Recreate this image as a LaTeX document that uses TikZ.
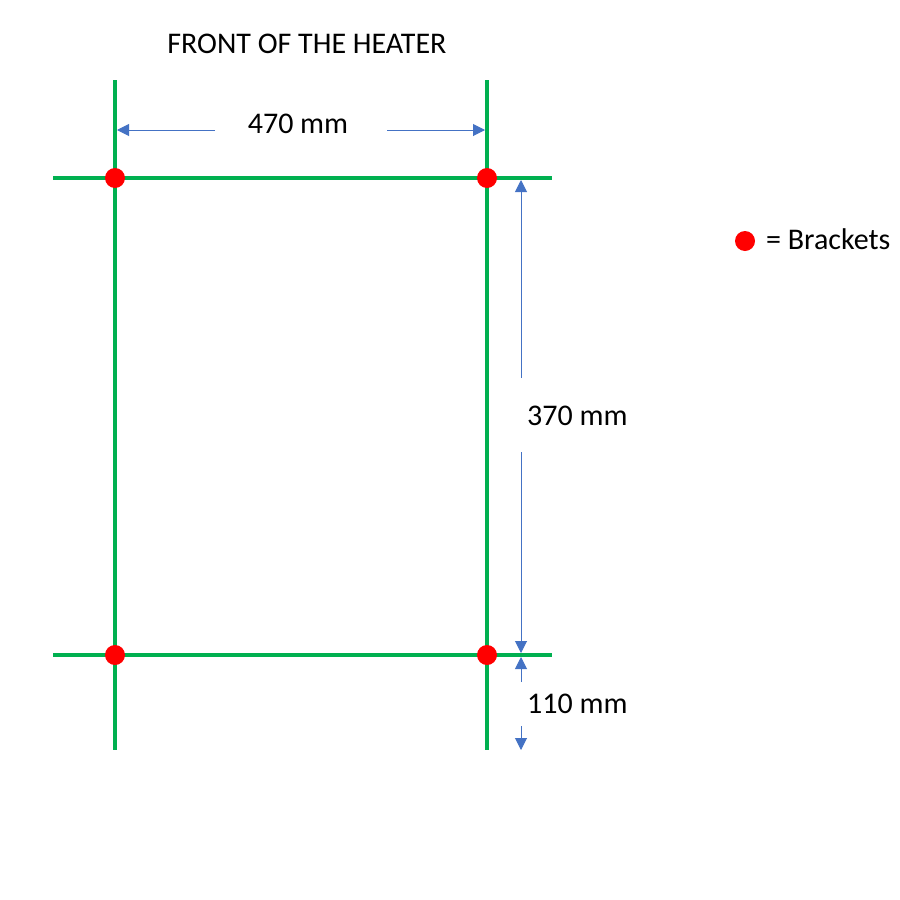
\documentclass[tikz,border=0pt]{standalone}
\usepackage{fontspec}
\setmainfont{Carlito}
\usetikzlibrary{arrows.meta}
\definecolor{ogreen}{RGB}{0,176,80}
\definecolor{oblue}{RGB}{68,114,196}
\tikzset{
  wire/.style={draw=ogreen,line width=4pt},
  bracket/.style={circle,fill=red,inner sep=0pt,minimum size=20pt},
  dim/.style={draw=oblue,line width=1pt,-{Triangle[length=12pt,width=12pt]}},
  lbl/.style={font=\fontsize{30}{35}\selectfont,inner sep=0pt,anchor=base}
}
\begin{document}
\begin{tikzpicture}[x=1pt,y=-1pt]
\useasboundingbox (0,0) rectangle (900,900);
% line ends
\coordinate (Lt) at (115,80);  \coordinate (Lb) at (115,750);
\coordinate (Rt) at (487,80);  \coordinate (Rb) at (487,750);
\coordinate (Tl) at (53,178);  \coordinate (Tr) at (552,178);
\coordinate (Bl) at (53,655);  \coordinate (Br) at (552,655);
\draw[wire] (Lt) -- (Lb);
\draw[wire] (Rt) -- (Rb);
\draw[wire] (Tl) -- (Tr);
\draw[wire] (Bl) -- (Br);
% brackets
\node[bracket] (tl) at (115,178) {};
\node[bracket] (tr) at (487,178) {};
\node[bracket] (bl) at (115,655) {};
\node[bracket] (br) at (487,655) {};
% texts
\node[lbl] (title) at (307,53) {FRONT OF THE HEATER};
\node[lbl] (w) at (298,133) {470 mm};
\node[lbl,anchor=base west] (h) at (527,425) {370 mm};
\node[lbl,anchor=base west] (d) at (527,713) {110 mm};
% dimension arrows
\coordinate (a1) at (215,130); \coordinate (a1e) at (117,130);
\coordinate (a2) at (387,130); \coordinate (a2e) at (485,130);
\draw[dim] (a1) -- (a1e);
\draw[dim] (a2) -- (a2e);
\coordinate (v1) at (521,378); \coordinate (v1e) at (521,180);
\coordinate (v2) at (521,452); \coordinate (v2e) at (521,653);
\draw[dim] (v1) -- (v1e);
\draw[dim] (v2) -- (v2e);
\coordinate (v3) at (521,682); \coordinate (v3e) at (521,657);
\coordinate (v4) at (521,726); \coordinate (v4e) at (521,750);
\draw[dim] (v3) -- (v3e);
\draw[dim] (v4) -- (v4e);
% legend
\node[bracket] (leg) at (745,241) {};
\node[lbl,anchor=base west] (legt) at (766,249) {= Brackets};
\end{tikzpicture}
\end{document}
